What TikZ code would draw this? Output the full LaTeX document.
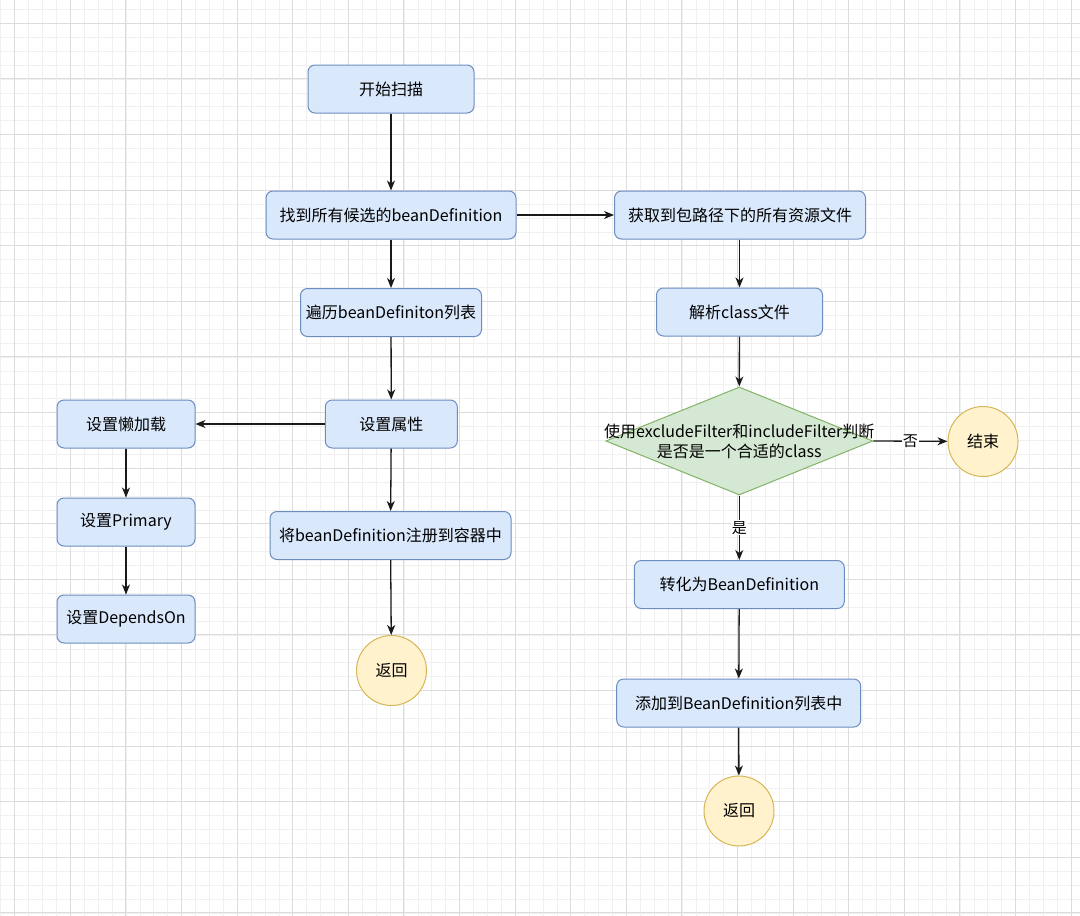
\documentclass[tikz,border=0pt]{standalone}
\usepackage{fontspec}
\setmainfont{Noto Sans CJK SC}
\usetikzlibrary{arrows.meta,shapes.geometric}
\definecolor{boxfill}{HTML}{DAE8FC}
\definecolor{boxline}{HTML}{6C8EBF}
\definecolor{dfill}{HTML}{D5E8D4}
\definecolor{dline}{HTML}{82B366}
\definecolor{cfill}{HTML}{FFF2CC}
\definecolor{cline}{HTML}{D6B656}
\definecolor{gmajor}{HTML}{DCDCDC}
\definecolor{gminor}{HTML}{F0F0F0}
\definecolor{edge}{HTML}{1A1A1A}
\tikzset{
  proc/.style={draw=boxline, fill=boxfill, line width=1pt, rounded corners=7pt,
    minimum height=48pt, inner sep=0pt, font=\fontsize{16}{19}\selectfont, text=black},
  term/.style={draw=cline, fill=cfill, line width=1pt, circle, minimum size=70pt,
    inner sep=0pt, font=\fontsize{16}{19}\selectfont},
  dec/.style={draw=dline, fill=dfill, line width=1pt, diamond, minimum width=267pt,
    minimum height=108pt, inner sep=0pt},
  flow/.style={draw=edge, line width=1.3pt, -{Stealth[length=10pt,width=8pt,inset=3pt]}},
  lbl/.style={fill=white, inner sep=1pt, font=\fontsize{15}{18}\selectfont}
}
\begin{document}
\begin{tikzpicture}[x=1pt,y=-1pt]
\useasboundingbox (0,0) rectangle (1080,916);
\fill[white] (0,0) rectangle (1080,916);
% grid
\foreach \i in {-1,...,78} {
  \draw[gminor, line width=0.6pt] ({14.7+13.9*\i},0) -- ({14.7+13.9*\i},916);
}
\foreach \j in {-2,...,66} {
  \draw[gminor, line width=0.6pt] (0,{23.3+13.9*\j}) -- (1080,{23.3+13.9*\j});
}
\foreach \i in {0,...,19} {
  \draw[gmajor, line width=1pt] ({14.7+55.6*\i},0) -- ({14.7+55.6*\i},916);
}
\foreach \j in {0,...,16} {
  \draw[gmajor, line width=1pt] (0,{23.3+55.6*\j}) -- (1080,{23.3+55.6*\j});
}
% nodes
\node[proc, minimum width=166pt] (start) at (391,89) {开始扫描};
\node[proc, minimum width=250pt] (find) at (391,215) {找到所有候选的beanDefinition};
\node[proc, minimum width=251pt] (res) at (740,215) {获取到包路径下的所有资源文件};
\node[proc, minimum width=181pt] (iter) at (391,312.5) {遍历beanDefiniton列表};
\node[proc, minimum width=166pt] (parse) at (739.5,312) {解析class文件};
\node[proc, minimum width=132pt] (attr) at (391.3,424) {设置属性};
\node[proc, minimum width=138pt] (lazy) at (126,424) {设置懒加载};
\node[proc, minimum width=138pt] (prim) at (126,522) {设置Primary};
\node[proc, minimum width=138pt] (dep) at (126,619) {设置DependsOn};
\node[proc, minimum width=241pt] (reg) at (390.5,535.5) {将beanDefinition注册到容器中};
\node[term] (ret1) at (391.5,670.5) {返回};
\node[dec] (dia) at (739.3,441) {};
\node[font=\fontsize{16}{20}\selectfont, align=center, inner sep=0pt] (dtext) at (739.3,441.5)
  {使用excludeFilter和includeFilter判断\\是否是一个合适的class};
\node[term] (endn) at (983,441.5) {结束};
\node[proc, minimum width=210pt] (conv) at (739.3,584.5) {转化为BeanDefinition};
\node[proc, minimum width=244pt] (add) at (738.7,703) {添加到BeanDefinition列表中};
\node[term] (ret2) at (739,811) {返回};
% edges
\draw[flow] (start) -- (find);
\draw[flow] (find) -- (res);
\draw[flow] (find) -- (iter);
\draw[flow] (iter) -- (attr);
\draw[flow] (attr) -- (lazy);
\draw[flow] (lazy) -- (prim);
\draw[flow] (prim) -- (dep);
\draw[flow] (attr) -- (reg);
\draw[flow] (reg) -- (ret1);
\draw[flow] (res.south -| parse.north) -- (parse);
\draw[flow] (parse) -- (dia.north);
\draw[flow] (dia.east) -- node[lbl] (no) {否} (endn);
\draw[flow] (dia.south) -- node[lbl, pos=0.5] (yes) {是} (conv);
\draw[flow] (conv) -- (add);
\draw[flow] (add) -- (ret2);
\end{tikzpicture}
\end{document}
